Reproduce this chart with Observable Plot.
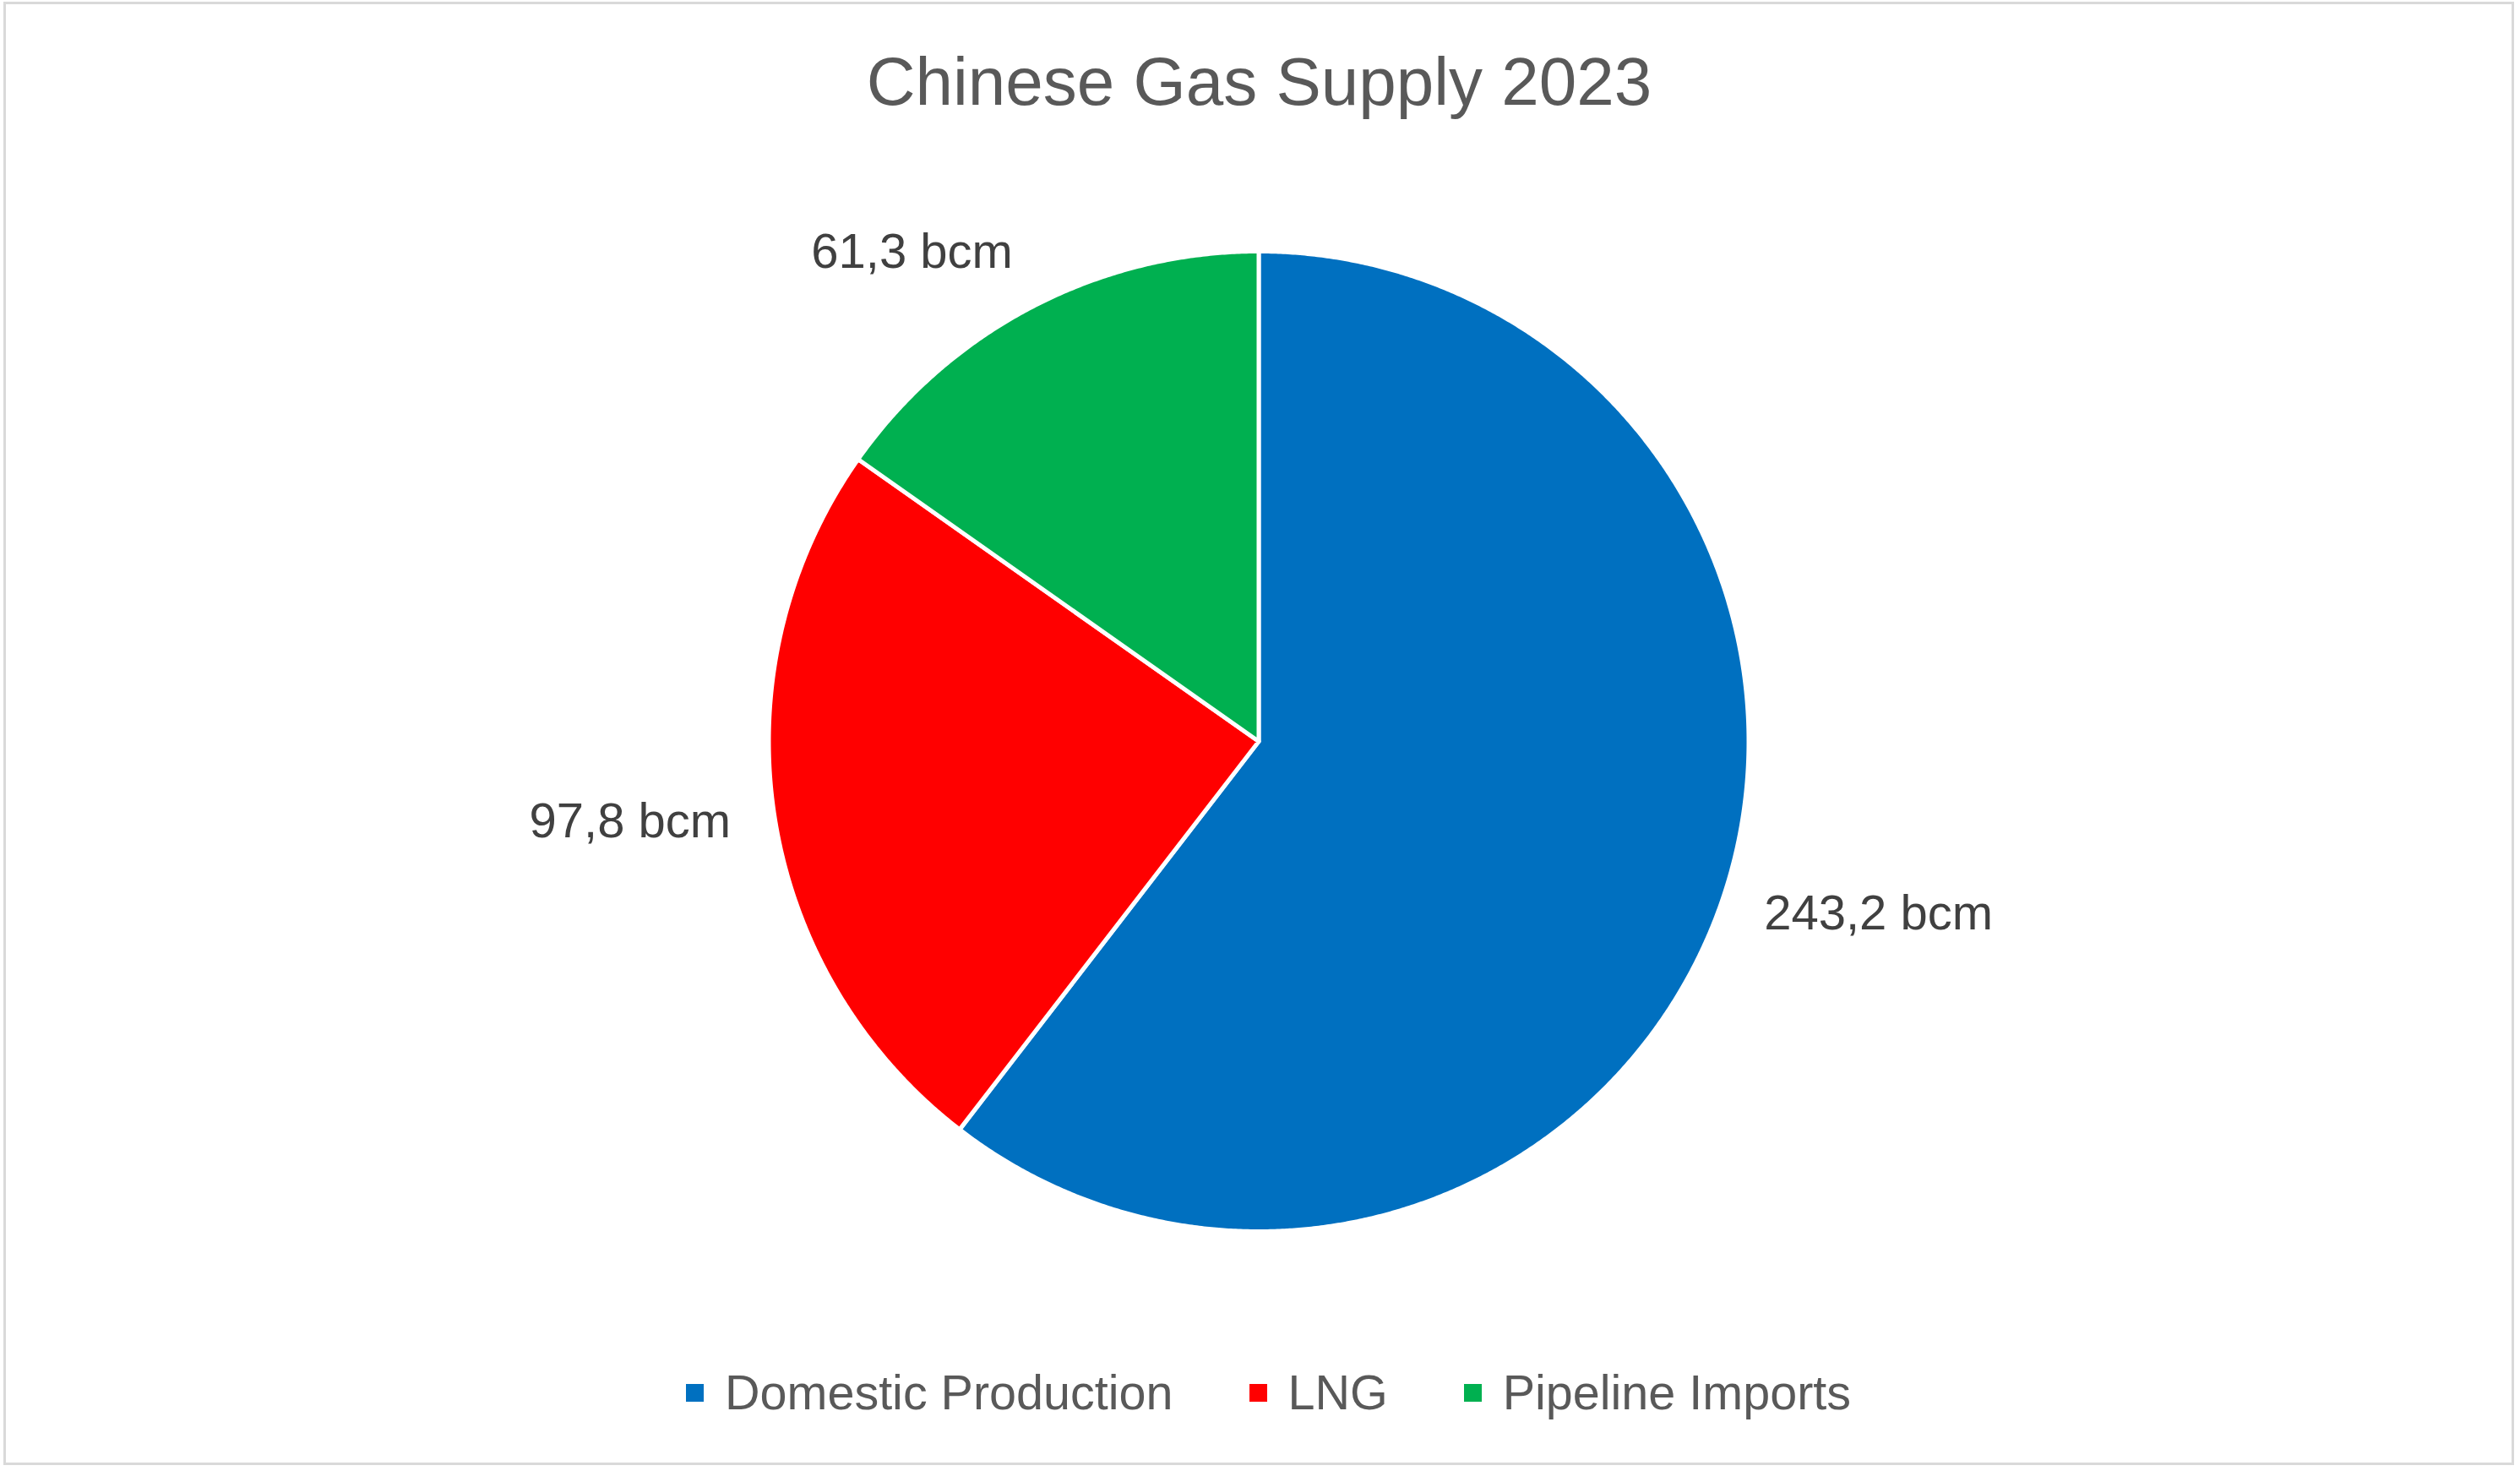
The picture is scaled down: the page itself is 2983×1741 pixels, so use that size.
<!DOCTYPE html>
<html>
<head>
<meta charset="utf-8">
<script src="https://cdn.jsdelivr.net/npm/d3@7"></script>
<script src="https://cdn.jsdelivr.net/npm/@observablehq/plot@0.6"></script>
<style>
  html, body { margin: 0; padding: 0; background: #ffffff; }
  body { width: 2983px; height: 1741px; position: relative; overflow: hidden;
         font-family: "Liberation Sans", Arial, sans-serif; }
  #frame { position: absolute; left: 4px; top: 2px; width: 2972px; height: 1732px;
           border: 3px solid #d9d9d9; box-sizing: border-box; }
  #title { position: absolute; left: 0; top: 57px; width: 2981px; text-align: center;
           font-size: 80px; line-height: 1; color: #595959; white-space: nowrap; }
  #chart { position: absolute; left: 0; top: 200px; }
  #legend { position: absolute; left: 812px; top: 1608px; height: 80px; display: flex;
            align-items: center; font-size: 57.5px; line-height: 80px; color: #595959; white-space: nowrap; }
  .item { display: flex; align-items: center; margin-right: 90px; }
  .item:last-child { margin-right: 0; }
  .sw { width: 21px; height: 21px; margin-right: 25px; flex: none; }
</style>
</head>
<body>
<div id="frame"></div>
<div id="title"></div>
<div id="chart"></div>
<div id="legend"></div>
<script>
// ---- data ----
const title = "Chinese Gas Supply 2023";
const categories = ["Domestic Production", "LNG", "Pipeline Imports"];
const values = [243.2, 97.8, 61.3];
const colors = ["#0070C0", "#FF0000", "#00B050"];
const unit = "bcm";

// ---- build ----
const R = 580;            // pie radius in projection units
const labelR = R + 52;    // label anchor radius
const data = categories.map((c, i) => ({category: c, value: values[i]}));
const arcs = d3.pie().sort(null).value(d => d.value)(data);

function pt(r, a) { return [r * Math.sin(a), -r * Math.cos(a)]; }

const slices = arcs.map(a => {
  const n = Math.max(2, Math.ceil((a.endAngle - a.startAngle) / 0.005));
  const ring = [[0, 0]];
  for (let k = 0; k <= n; ++k) ring.push(pt(R, a.startAngle + (a.endAngle - a.startAngle) * k / n));
  ring.push([0, 0]);
  return {type: "Feature", properties: {category: a.data.category},
          geometry: {type: "Polygon", coordinates: [ring]}};
});

const labels = arcs.map(a => {
  const mid = (a.startAngle + a.endAngle) / 2;
  const [x, y] = pt(labelR, mid);
  const s = Math.sin(mid), c = Math.cos(mid);
  return {
    x, y,
    text: a.data.value.toFixed(1).replace(".", ",") + " " + unit,
    textAnchor: s >= 0 ? "start" : "end",
    lineAnchor: c > 0.5 ? "bottom" : (c < -0.5 ? "top" : "middle")
  };
});

const bounds = {type: "MultiPoint", coordinates: [[-R, -R], [R, R]]};

document.getElementById("title").textContent = title;

const chart = Plot.plot({
  width: 2983,
  height: 1354,
  marginTop: 97,
  marginBottom: 97,
  marginLeft: 0,
  marginRight: 4,
  projection: {type: "identity", domain: bounds},
  color: {domain: categories, range: colors},
  style: {fontFamily: "'Liberation Sans', Arial, sans-serif", fontSize: "58px",
          background: "transparent", overflow: "visible", color: "#404040"},
  marks: [
    Plot.geo(slices, {fill: d => d.properties.category, stroke: "#ffffff", strokeWidth: 5}),
    ...labels.map(l => Plot.text([l], {x: "x", y: "y", text: "text",
      textAnchor: l.textAnchor, lineAnchor: l.lineAnchor, fill: "#404040", fontSize: 58}))
  ]
});
document.getElementById("chart").appendChild(chart);

const legend = document.getElementById("legend");
categories.forEach((c, i) => {
  const item = document.createElement("div");
  item.className = "item";
  const sw = document.createElement("span");
  sw.className = "sw";
  sw.style.background = colors[i];
  const tx = document.createElement("span");
  tx.textContent = c;
  item.appendChild(sw);
  item.appendChild(tx);
  legend.appendChild(item);
});
</script>
</body>
</html>
